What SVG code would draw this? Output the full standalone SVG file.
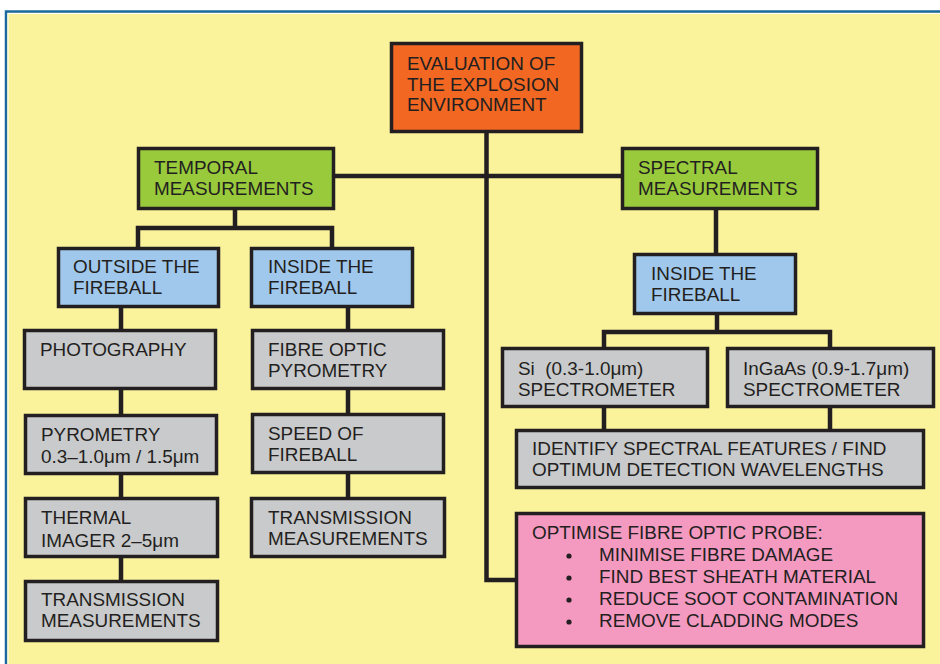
<svg xmlns="http://www.w3.org/2000/svg" width="940" height="664" viewBox="0 0 940 664">
<style>
.box{stroke:#231f20;stroke-width:3.5}
.root{fill:#f26722}
.green{fill:#99ca3c}
.blue{fill:#a0c8ec}
.gray{fill:#c9cacc}
.pink{fill:#f49ac1}
text{font-family:"Liberation Sans",Arial,sans-serif;font-size:18.9px;fill:#231f20}
.conn{fill:none;stroke:#231f20;stroke-width:4.5;stroke-linecap:butt}
</style>
<rect x="0" y="0" width="940" height="664" fill="#ffffff"/>
<rect x="6" y="11.5" width="950" height="670" fill="#faf39c" stroke="#1b69a0" stroke-width="2.5"/>
<rect x="8" y="13.5" width="950" height="670" fill="none" stroke="#ffffff" stroke-width="1"/>
<g id="connectors">
<path class="conn" d="M486.5 133 V580 H515"/>
<path class="conn" d="M335 176 H621"/>
<path class="conn" d="M235 210 V228 M138 247 V228 H332 V247"/>
<path class="conn" d="M121 308 V329 M121 390 V414 M121 475 V497 M121 558 V580"/>
<path class="conn" d="M348 308 V329 M348 390 V413 M348 474 V497"/>
<path class="conn" d="M716 210 V253 M717 315 V332 M604 347 V332 H830 V347"/>
<path class="conn" d="M604 408 V429 M830 408 V429"/>
</g>
<g id="root"><rect class="box root" x="391.5" y="43.5" width="190" height="88"/>
<text x="407" y="70">EVALUATION OF</text><text x="407" y="91">THE EXPLOSION</text><text x="407" y="111">ENVIRONMENT</text></g>
<g id="temporal"><rect class="box green" x="138.5" y="148.5" width="195" height="60"/>
<text x="154" y="174">TEMPORAL</text><text x="154" y="195">MEASUREMENTS</text></g>
<g id="spectral"><rect class="box green" x="622.5" y="148.5" width="195" height="60"/>
<text x="638" y="174">SPECTRAL</text><text x="638" y="195">MEASUREMENTS</text></g>
<g id="outside"><rect class="box blue" x="58.5" y="248.5" width="160" height="58"/>
<text x="73" y="273">OUTSIDE THE</text><text x="73" y="294">FIREBALL</text></g>
<g id="inside1"><rect class="box blue" x="251.5" y="248.5" width="161" height="58"/>
<text x="268" y="273">INSIDE THE</text><text x="268" y="294">FIREBALL</text></g>
<g id="photography"><rect class="box gray" x="24.5" y="330.5" width="191" height="58"/>
<text x="40" y="356">PHOTOGRAPHY</text></g>
<g id="pyrometry"><rect class="box gray" x="25.5" y="415.5" width="191" height="58"/>
<text x="41" y="441">PYROMETRY</text><text x="41" y="463">0.3–1.0μm / 1.5μm</text></g>
<g id="thermal"><rect class="box gray" x="25.5" y="498.5" width="192" height="58"/>
<text x="41" y="524">THERMAL</text><text x="41" y="547">IMAGER 2–5μm</text></g>
<g id="transmission1"><rect class="box gray" x="25.5" y="581.5" width="192" height="59"/>
<text x="41" y="606">TRANSMISSION</text><text x="41" y="627">MEASUREMENTS</text></g>
<g id="fibre"><rect class="box gray" x="252.5" y="330.5" width="191" height="58"/>
<text x="268" y="356">FIBRE OPTIC</text><text x="268" y="377">PYROMETRY</text></g>
<g id="speed"><rect class="box gray" x="252.5" y="414.5" width="191" height="58"/>
<text x="268" y="440">SPEED OF</text><text x="268" y="461">FIREBALL</text></g>
<g id="transmission2"><rect class="box gray" x="251.5" y="498.5" width="193" height="58"/>
<text x="268" y="524">TRANSMISSION</text><text x="268" y="545">MEASUREMENTS</text></g>
<g id="inside2"><rect class="box blue" x="634.5" y="254.5" width="161" height="59"/>
<text x="651" y="280">INSIDE THE</text><text x="651" y="301">FIREBALL</text></g>
<g id="si"><rect class="box gray" x="502.5" y="348.5" width="205" height="58"/>
<text x="518" y="375" xml:space="preserve">Si  (0.3-1.0μm)</text><text x="518" y="396">SPECTROMETER</text></g>
<g id="ingaas"><rect class="box gray" x="727.5" y="348.5" width="206" height="58"/>
<text x="743" y="375">InGaAs (0.9-1.7μm)</text><text x="743" y="396">SPECTROMETER</text></g>
<g id="identify"><rect class="box gray" x="516.5" y="430.5" width="407" height="57"/>
<text x="532" y="455">IDENTIFY SPECTRAL FEATURES / FIND</text><text x="532" y="476">OPTIMUM DETECTION WAVELENGTHS</text></g>
<g id="optimise"><rect class="box pink" x="516.5" y="513.5" width="407" height="133"/>
<text x="532" y="539">OPTIMISE FIBRE OPTIC PROBE:</text>
<circle cx="569" cy="556" r="2.6" fill="#231f20"/><text x="599" y="561">MINIMISE FIBRE DAMAGE</text>
<circle cx="569" cy="578" r="2.6" fill="#231f20"/><text x="599" y="583">FIND BEST SHEATH MATERIAL</text>
<circle cx="569" cy="600" r="2.6" fill="#231f20"/><text x="599" y="605">REDUCE SOOT CONTAMINATION</text>
<circle cx="569" cy="622" r="2.6" fill="#231f20"/><text x="599" y="627">REMOVE CLADDING MODES</text></g>
</svg>
